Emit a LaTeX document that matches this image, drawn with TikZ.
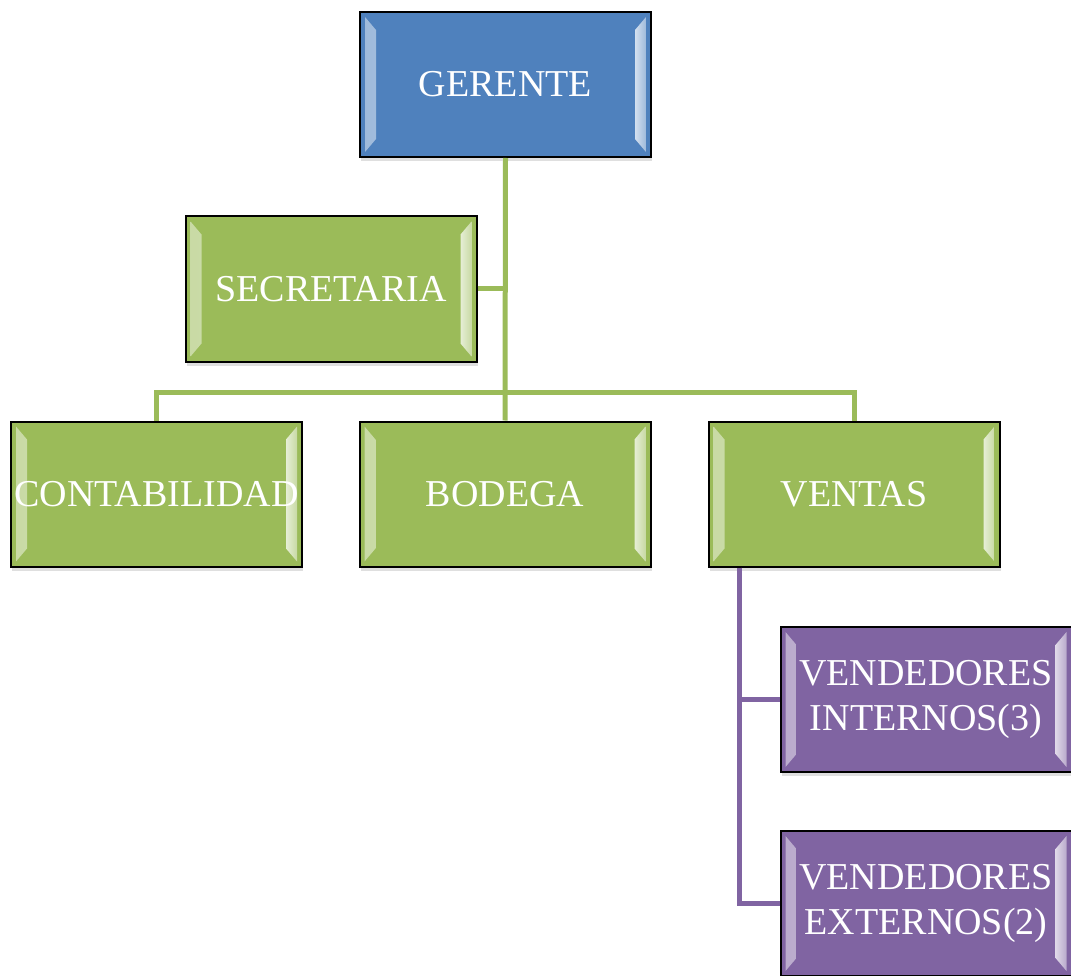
\documentclass[tikz,border=0pt]{standalone}
\usepackage{fontspec}
\setmainfont{Liberation Serif}
\usetikzlibrary{shadows}

\definecolor{jefe}{HTML}{4F81BD}
\definecolor{area}{HTML}{9BBB59}
\definecolor{vende}{HTML}{8064A2}

\tikzset{
  cargo/.style={draw=black, line width=2pt, fill=#1, text=white,
    minimum width=291pt, minimum height=145pt, inner xsep=0pt, align=center,
    font=\fontsize{38}{45}\selectfont,
    drop shadow={shadow xshift=1pt, shadow yshift=-4pt, opacity=0.25},
    path picture={
      \shade[left color=#1!55!white, right color=#1!25!white]
        ([shift={(5pt,-5pt)}]path picture bounding box.north west) -- ([shift={(16pt,-18pt)}]path picture bounding box.north west)
        -- ([shift={(16pt,18pt)}]path picture bounding box.south west) -- ([shift={(5pt,5pt)}]path picture bounding box.south west) -- cycle;
      \shade[right color=#1!55!white, left color=#1!25!white]
        ([shift={(-5pt,-5pt)}]path picture bounding box.north east) -- ([shift={(-16pt,-18pt)}]path picture bounding box.north east)
        -- ([shift={(-16pt,18pt)}]path picture bounding box.south east) -- ([shift={(-5pt,5pt)}]path picture bounding box.south east) -- cycle;
    }},
  enlace/.style={line width=5pt, draw=#1},
}

\begin{document}
\begin{tikzpicture}[x=1pt,y=1pt]
  \useasboundingbox (0,0) rectangle (1071,-976);

  % puestos
  \node[cargo=jefe] (ger) at (505.5,-84.5) {GERENTE};
  \node[cargo=area] (sec) at (331,-289) {SECRETARIA};
  \node[cargo=area] (con) at (156.5,-494) {CONTABILIDAD};
  \node[cargo=area] (bod) at (505,-494) {BODEGA};
  \node[cargo=area] (ven) at (854,-494) {VENTAS};
  \node[cargo=vende] (int) at (926,-699.5) {VENDEDORES\\INTERNOS(3)};
  \node[cargo=vende] (ext) at (926,-903.5) {VENDEDORES\\EXTERNOS(2)};

  % lineas
  \coordinate (barra) at (505,-392);
  \draw[enlace=area] (ger.south) -- (bod.north);
  \draw[enlace=area] (sec.east) -- (sec.east -| ger.south);
  \draw[enlace=area] (con.north) |- (barra) -| (ven.north);
  \coordinate (vs) at ([xshift=32pt]ven.south west);
  \draw[enlace=vende] (vs) |- (int.west);
  \draw[enlace=vende] (vs) |- (ext.west);
\end{tikzpicture}
\end{document}
